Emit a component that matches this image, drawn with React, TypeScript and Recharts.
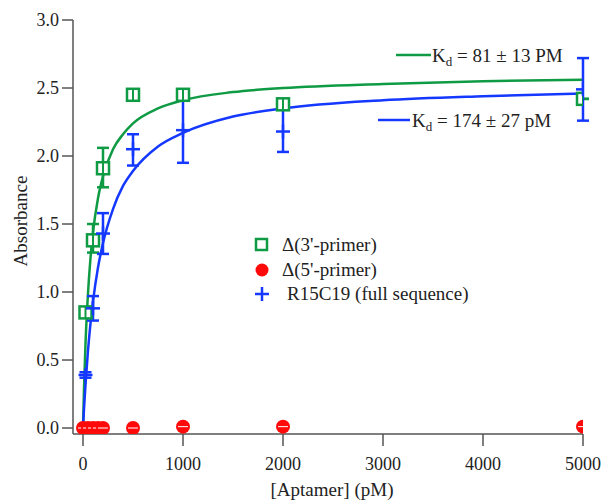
import { ComposedChart, Scatter, Line, XAxis, YAxis, ErrorBar } from "recharts";

const GREEN = "#0f9a44";
const BLUE = "#1438ff";
const RED = "#ff0a0a";
const AXIS = "#555555";
const FONT = "'Liberation Serif', 'Times New Roman', serif";

// concentrations in pM
const greenConc = [25, 100, 200, 500, 1000, 2000, 5000];
const greenAbs = [0.85, 1.38, 1.91, 2.45, 2.45, 2.38, 2.42];
const greenErr = [[0, 0], [0.09, 0.12], [0.14, 0.15], [0, 0], [0, 0], [0, 0], [0, 0]];

const redConc = [0, 50, 100, 150, 200, 500, 1000, 2000, 5000];
const redAbs = [0.0, 0.0, 0.0, 0.0, 0.0, 0.0, 0.01, 0.01, 0.01];

const blueConc = [25, 100, 200, 500, 1000, 2000, 5000];
const blueAbs = [0.39, 0.88, 1.43, 2.05, 2.19, 2.18, 2.49];
const blueErr = [[0.02, 0.02], [0.09, 0.09], [0.15, 0.15], [0.12, 0.11], [0.24, 0.24], [0.15, 0.17], [0.23, 0.23]];

// fitted curves
const fitConc = [0, 10, 25, 50, 75, 100, 150, 200, 300, 400, 500, 750, 1000, 1500, 2000, 3000, 4000, 5000];
const greenFit = [0, 0.29, 0.62, 0.99, 1.25, 1.44, 1.69, 1.85, 2.05, 2.16, 2.24, 2.35, 2.41, 2.47, 2.5, 2.53, 2.55, 2.56];
const blueFit = [0, 0.14, 0.32, 0.57, 0.77, 0.93, 1.18, 1.36, 1.61, 1.78, 1.89, 2.07, 2.17, 2.29, 2.35, 2.41, 2.44, 2.46];

const xTicks = [0, 1000, 2000, 3000, 4000, 5000];
const yTicks = [0, 0.5, 1.0, 1.5, 2.0, 2.5, 3.0];

const greenData = greenConc.map((x, i) => ({ x, y: greenAbs[i], err: greenErr[i] }));
const redData = redConc.map((x, i) => ({ x, y: redAbs[i] }));
const blueData = blueConc.map((x, i) => ({ x, y: blueAbs[i], err: blueErr[i] }));
const greenLine = fitConc.map((x, i) => ({ x, y: greenFit[i] }));
const blueLine = fitConc.map((x, i) => ({ x, y: blueFit[i] }));

const Square = ({ cx, cy }: any) => (
  <g>
    <rect x={cx - 6} y={cy - 6} width={12} height={12} fill="white" stroke={GREEN} strokeWidth={2.5} />
    <line x1={cx} y1={cy - 6} x2={cx} y2={cy + 6} stroke={GREEN} strokeWidth={2} />
  </g>
);

const Dot = ({ cx, cy }: any) => (
  <g>
    <circle cx={cx} cy={cy} r={7} fill={RED} />
    <line x1={cx - 5} y1={cy} x2={cx + 5} y2={cy} stroke="white" strokeWidth={1} />
  </g>
);

const Plus = ({ cx, cy }: any) => (
  <g stroke={BLUE} strokeWidth={2.5}>
    <line x1={cx - 7} y1={cy} x2={cx + 7} y2={cy} />
    <line x1={cx} y1={cy - 7} x2={cx} y2={cy + 7} />
  </g>
);

const tickStyle = { fill: "#222", fontSize: 18, fontFamily: FONT };

export default function App() {
  return (
    <div style={{ position: "absolute", left: 0, top: 0, width: 605, height: 501, background: "white" }}>
      <ComposedChart width={605} height={501} margin={{ top: 20, right: 22, bottom: 0, left: 0 }}>
        <XAxis
          type="number"
          dataKey="x"
          domain={[-100, 5000]}
          ticks={xTicks}
          allowDataOverflow
          height={67}
          tickSize={12}
          tickMargin={11}
          tick={tickStyle}
          axisLine={{ stroke: AXIS, strokeWidth: 1.5 }}
          tickLine={{ stroke: AXIS, strokeWidth: 1.5 }}
        />
        <YAxis
          type="number"
          dataKey="y"
          domain={[-0.044, 3.0]}
          ticks={yTicks}
          allowDataOverflow
          width={73}
          tickSize={11}
          tickMargin={3}
          tickFormatter={(v: number) => v.toFixed(1)}
          tick={tickStyle}
          axisLine={{ stroke: AXIS, strokeWidth: 1.5 }}
          tickLine={{ stroke: AXIS, strokeWidth: 1.5 }}
        />
        <Line data={greenLine} dataKey="y" type="monotone" stroke={GREEN} strokeWidth={2.5} dot={false} isAnimationActive={false} />
        <Line data={blueLine} dataKey="y" type="monotone" stroke={BLUE} strokeWidth={2.5} dot={false} isAnimationActive={false} />
        <Scatter data={redData} shape={Dot} isAnimationActive={false} />
        <Scatter data={greenData} shape={Square} isAnimationActive={false}>
          <ErrorBar dataKey="err" direction="y" width={6} stroke={GREEN} strokeWidth={2.5} />
        </Scatter>
        <Scatter data={blueData} shape={Plus} isAnimationActive={false}>
          <ErrorBar dataKey="err" direction="y" width={6} stroke={BLUE} strokeWidth={2.5} />
        </Scatter>
      </ComposedChart>
      <svg width={605} height={501} style={{ position: "absolute", left: 0, top: 0, pointerEvents: "none" }}
        fontFamily={FONT} fill="#222">
        <text x={23} y={221} fontSize={19} textAnchor="middle" transform="rotate(-90 23 221)" dominantBaseline="middle">Absorbance</text>
        <text x={332} y={496} fontSize={19} textAnchor="middle">[Aptamer] (pM)</text>

        <line x1={396} y1={55} x2={431} y2={55} stroke={GREEN} strokeWidth={2.5} />
        <text x={432} y={62} fontSize={19}>
          K<tspan fontSize={13} dy={4}>d</tspan><tspan dy={-4}> = 81 ± 13 PM</tspan>
        </text>
        <line x1={378} y1={120} x2={410} y2={120} stroke={BLUE} strokeWidth={2.5} />
        <text x={412} y={127} fontSize={19}>
          K<tspan fontSize={13} dy={4}>d</tspan><tspan dy={-4}> = 174 ± 27 pM</tspan>
        </text>

        <rect x={256} y={239} width={11} height={11} fill="none" stroke={GREEN} strokeWidth={2.5} />
        <text x={282} y={251} fontSize={19}>Δ(3'-primer)</text>
        <circle cx={262} cy={270} r={6.5} fill={RED} />
        <text x={282} y={276} fontSize={19}>Δ(5'-primer)</text>
        <g stroke={BLUE} strokeWidth={2.5}>
          <line x1={255} y1={294} x2={269} y2={294} />
          <line x1={262} y1={287} x2={262} y2={301} />
        </g>
        <text x={287} y={300} fontSize={19}>R15C19 (full sequence)</text>
      </svg>
    </div>
  );
}
